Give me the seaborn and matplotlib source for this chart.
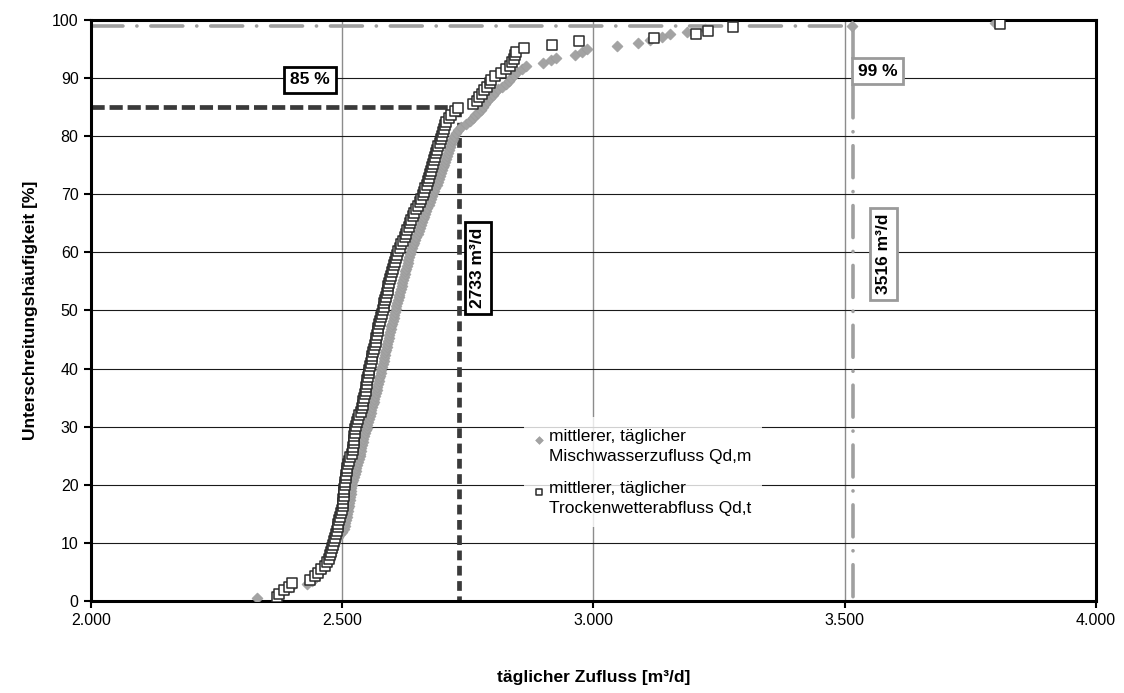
import numpy as np
import pandas as pd
import matplotlib
matplotlib.use("Agg")
import matplotlib.pyplot as plt
from matplotlib.ticker import FuncFormatter, MultipleLocator
import seaborn as sns

# Sorted daily flows [m³/d]
# mittlerer, täglicher Trockenwetterabfluss Qd,t
q_dry = [
    2370, 2375, 2384, 2394, 2399, 2436, 2446, 2452, 2458, 2466,
    2470, 2473, 2476, 2478, 2480, 2481, 2483, 2485, 2487, 2489,
    2491, 2492, 2494, 2496, 2498, 2500, 2501, 2501, 2502, 2503,
    2503, 2504, 2505, 2506, 2507, 2508, 2509, 2510, 2511, 2513,
    2516, 2519, 2521, 2522, 2523, 2523, 2524, 2525, 2525, 2527,
    2529, 2532, 2534, 2537, 2539, 2541, 2542, 2544, 2545, 2547,
    2548, 2549, 2550, 2551, 2553, 2554, 2556, 2557, 2559, 2560,
    2562, 2563, 2565, 2567, 2568, 2569, 2571, 2572, 2574, 2575,
    2577, 2579, 2581, 2583, 2584, 2586, 2588, 2590, 2591, 2592,
    2594, 2596, 2597, 2599, 2601, 2603, 2605, 2607, 2609, 2611,
    2614, 2617, 2620, 2624, 2627, 2629, 2632, 2634, 2637, 2640,
    2643, 2646, 2650, 2654, 2657, 2660, 2663, 2665, 2668, 2670,
    2673, 2675, 2677, 2679, 2681, 2683, 2685, 2687, 2689, 2691,
    2694, 2696, 2698, 2700, 2702, 2704, 2707, 2712, 2717, 2724,
    2731, 2760, 2768, 2773, 2778, 2782, 2788, 2794, 2797, 2804,
    2815, 2826, 2834, 2838, 2841, 2843, 2846, 2862, 2917, 2971,
    3120, 3204, 3228, 3278, 3809,
]

# mittlerer, täglicher Mischwasserzufluss Qd,m
q_mix = [
    2330, 2372, 2378, 2390, 2397, 2430, 2440, 2446, 2450, 2455,
    2461, 2466, 2470, 2473, 2476, 2478, 2480, 2482, 2483, 2485,
    2488, 2492, 2496, 2500, 2503, 2505, 2506, 2508, 2509, 2510,
    2511, 2512, 2513, 2514, 2515, 2516, 2517, 2518, 2518, 2519,
    2520, 2522, 2523, 2525, 2527, 2528, 2530, 2531, 2533, 2535,
    2536, 2537, 2538, 2540, 2541, 2542, 2544, 2545, 2547, 2549,
    2550, 2552, 2553, 2555, 2557, 2558, 2560, 2562, 2563, 2564,
    2566, 2567, 2569, 2570, 2572, 2573, 2574, 2576, 2577, 2578,
    2580, 2581, 2583, 2584, 2585, 2586, 2588, 2589, 2590, 2592,
    2593, 2594, 2595, 2597, 2598, 2599, 2600, 2602, 2603, 2604,
    2606, 2607, 2609, 2610, 2612, 2613, 2615, 2616, 2618, 2619,
    2621, 2622, 2624, 2625, 2627, 2628, 2630, 2631, 2633, 2635,
    2637, 2639, 2641, 2643, 2645, 2647, 2650, 2652, 2654, 2656,
    2658, 2660, 2663, 2665, 2667, 2669, 2672, 2674, 2677, 2679,
    2681, 2683, 2685, 2688, 2690, 2692, 2694, 2696, 2699, 2701,
    2703, 2705, 2707, 2709, 2711, 2713, 2715, 2716, 2718, 2720,
    2722, 2726, 2730, 2736, 2746, 2755, 2760, 2765, 2770, 2776,
    2780, 2784, 2789, 2794, 2800, 2805, 2810, 2817, 2825, 2831,
    2836, 2841, 2848, 2858, 2866, 2900, 2915, 2925, 2963, 2977,
    2987, 3047, 3088, 3112, 3136, 3152, 3186, 3222, 3514, 3799,
]

# Characteristic values
p85, q85 = 85, 2733
p99, q99 = 99, 3516

label_mix = "mittlerer, täglicher\nMischwasserzufluss Qd,m"
label_dry = "mittlerer, täglicher\nTrockenwetterabfluss Qd,t"


def exceedance_frame(values):
    v = np.sort(np.asarray(values, dtype=float))
    n = len(v)
    return pd.DataFrame({"q": v, "p": np.arange(1, n + 1) / (n + 1) * 100})


df_mix = exceedance_frame(q_mix)
df_dry = exceedance_frame(q_dry)

sns.set_theme(style="white")
plt.rcParams["font.family"] = ["Liberation Sans", "DejaVu Sans"]
plt.rcParams["lines.scale_dashes"] = False
for key in ["text.color", "axes.labelcolor", "xtick.color", "ytick.color"]:
    plt.rcParams[key] = "black"

fig = plt.figure(figsize=(11.24, 6.93), dpi=100)
ax = fig.add_axes([0.081, 0.1328, 0.894, 0.8383])

# grid
ax.set_axisbelow(True)
ax.yaxis.grid(True, color="#1a1a1a", lw=0.8)
ax.xaxis.grid(True, color="#8c8c8c", lw=1.0)

# reference lines: 85 % (dry weather) and 99 % (combined)
ax.plot([2000, q85], [p85, p85], color="#3a3a3a", lw=3.4,
        dashes=(9.5, 3.5), solid_capstyle="butt", dash_capstyle="butt", zorder=2)
ax.plot([q85, q85], [p85, 0], color="#3a3a3a", lw=3.4,
        dashes=(7, 4), solid_capstyle="butt", dash_capstyle="butt", zorder=2)
ax.plot([2000, q99], [p99, p99], color="#a0a0a0", lw=2.6,
        dashes=(23, 10, 0.1, 10), dash_capstyle="round", zorder=2)
ax.plot([q99, q99], [p99, 0], color="#a0a0a0", lw=2.6,
        dashes=(23, 10, 0.1, 10), dash_capstyle="round", zorder=2)

# data points
sns.scatterplot(data=df_mix, x="q", y="p", marker="D", s=32,
                color="#a3a3a3", edgecolor="#9a9a9a", linewidth=0.4,
                label=label_mix, ax=ax, zorder=3)
sns.scatterplot(data=df_dry, x="q", y="p", marker="s", s=50,
                facecolor="white", edgecolor="#2b2b2b", linewidth=1.1,
                label=label_dry, ax=ax, zorder=4)

# axes
ax.set_xlim(2000, 4000)
ax.set_ylim(0, 100)
ax.xaxis.set_major_locator(MultipleLocator(500))
ax.yaxis.set_major_locator(MultipleLocator(10))
ax.xaxis.set_major_formatter(FuncFormatter(lambda v, _: f"{v:,.0f}".replace(",", ".")))
ax.tick_params(axis="both", direction="out", length=5, width=1.5, color="black",
               labelcolor="black", labelsize=11.5, pad=4, bottom=True, left=True)
for side in ["left", "bottom", "top", "right"]:
    ax.spines[side].set_visible(True)
    ax.spines[side].set_color("black")
    ax.spines[side].set_linewidth(2.2)

ax.set_xlabel("täglicher Zufluss [m³/d]", fontsize=12.5, fontweight="bold",
              labelpad=30, color="black")
ax.set_ylabel("Unterschreitungshäufigkeit [%]", fontsize=12.5, fontweight="bold",
              labelpad=10, color="black")

# annotation boxes
box_dark = dict(boxstyle="square,pad=0.33", fc="white", ec="black", lw=2.0)
box_gray = dict(boxstyle="square,pad=0.33", fc="white", ec="#9a9a9a", lw=2.0)
ax.text(2436, 89.7, f"{p85} %", ha="center", va="center", fontsize=12.5,
        fontweight="bold", bbox=box_dark, zorder=5)
ax.text(2770, 57.3, f"{q85} m³/d", ha="center", va="center", rotation=90,
        fontsize=12.5, fontweight="bold", bbox=box_dark, zorder=5)
ax.text(3566, 91.2, f"{p99} %", ha="center", va="center", fontsize=12.5,
        fontweight="bold", bbox=box_gray, zorder=5)
ax.text(3577, 59.7, f"{q99} m³/d", ha="center", va="center", rotation=90,
        fontsize=12.5, fontweight="bold", bbox=box_gray, zorder=5)

# legend (markers aligned with the first text line of each entry)
leg = ax.legend(loc="upper left", bbox_to_anchor=(0.427, 0.322), frameon=True,
                fontsize=12.5, markerscale=0.7, handlelength=0.5,
                handletextpad=0.3, labelspacing=0.95, borderpad=0.35,
                scatteryoffsets=[1.0])
for t in leg.get_texts():
    t.set_linespacing(1.45)
    t.set_color("black")
leg.get_frame().set_facecolor("white")
leg.get_frame().set_edgecolor("white")
leg.get_frame().set_linewidth(0)
leg.get_frame().set_boxstyle("square")
leg.set_zorder(6)

fig.savefig("out.png", dpi=100, facecolor="white")
